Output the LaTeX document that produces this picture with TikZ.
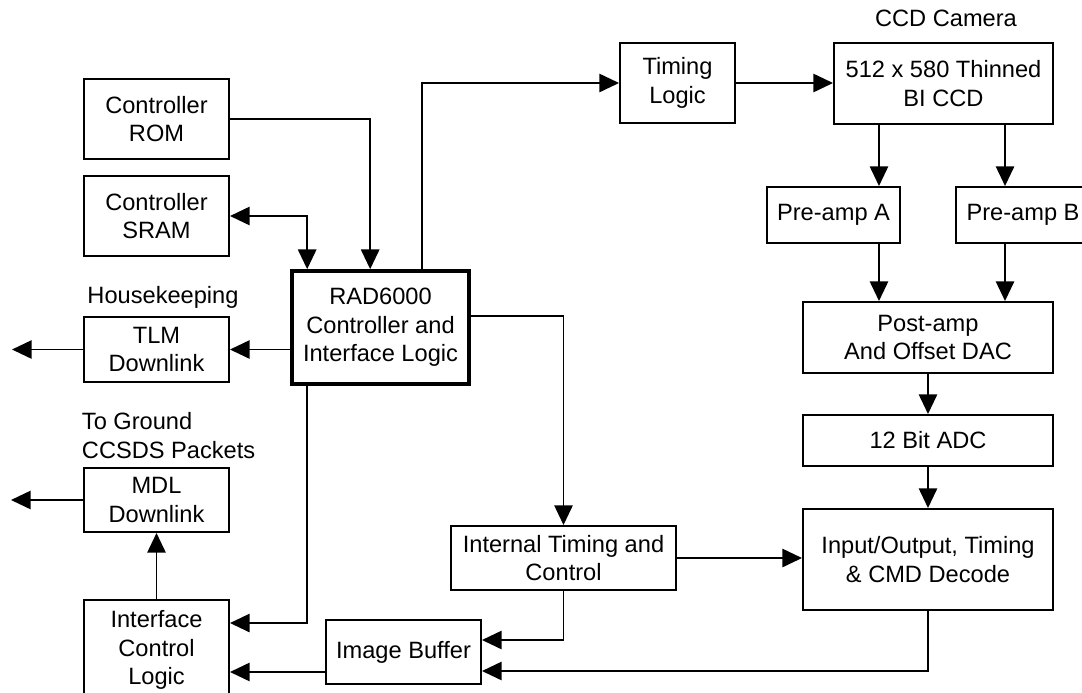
\documentclass[tikz,border=0pt]{standalone}
\usepackage{fontspec}
\setmainfont{Liberation Sans}
\usetikzlibrary{arrows.meta,calc}

\begin{document}
\begin{tikzpicture}[x=0.025cm,y=-0.025cm,line width=1.4pt,
  >={Triangle[length=14pt,width=13pt]},
  every node/.style={inner sep=0pt,align=center,font=\fontsize{16.8}{20.3}\selectfont},
  blk/.style 2 args={draw,line width=1.4pt,minimum width=#1*0.025cm,minimum height=#2*0.025cm}]
\useasboundingbox (0,0) rectangle (1082,692);
% left column
\node[blk={145}{80}] (rom) at (156.5,119) {Controller\\ROM};
\node[blk={145}{80}] (sram) at (156.5,216) {Controller\\SRAM};
\node[blk={145}{65}] (tlm) at (156.5,349.5) {TLM\\Downlink};
\node[blk={145}{64}] (mdl) at (156.5,500) {MDL\\Downlink};
\node[blk={145}{100}] (icl) at (156.5,650) {Interface\\Control\\Logic};
\node (hk) at (163,297) {Housekeeping};
\node[anchor=west,align=left] (gnd) at (81,435.5) {To Ground\\CCSDS Packets};
\coordinate (hkend) at (12,349.5);
\coordinate (gndend) at (11,500);
% controller and buffers
\node[blk={177}{113},line width=2.6pt] (rad) at (380.5,327.5) {RAD6000\\Controller and\\Interface Logic};
\node[blk={225}{64}] (itc) at (563.5,558) {Internal Timing and\\Control};
\node[blk={155}{64}] (buf) at (403.5,652) {Image Buffer};
\node[blk={115}{80}] (tim) at (677.5,83) {Timing\\Logic};
% camera chain
\node (cam) at (946,18) {CCD Camera};
\node[blk={219}{81}] (ccd) at (943.5,83.5) {512 x 580 Thinned\\BI CCD};
\node[blk={133}{56}] (prea) at (833.5,215) {Pre-amp A};
\node[blk={134}{56}] (preb) at (1023,215) {Pre-amp B};
\node[blk={250}{71}] (post) at (928,337.5) {Post-amp\\And Offset DAC};
\node[blk={250}{51}] (adc) at (928,440.5) {12 Bit ADC};
\node[blk={250}{101}] (io) at (928,559.5) {Input/Output, Timing\\\& CMD Decode};
\coordinate (ta) at ($(prea.north east)+(-22,0)$);
\coordinate (tb) at ($(preb.north west)+(50,0)$);
\coordinate (bufout) at ($(buf.south west)+(0,-13)$);
% connections
\draw[->] (rom.east) -| ($(rad.north west)+(80,0)$);
\draw[<->] (sram.east) -| ($(rad.north west)+(17,0)$);
\draw[->] (tlm.east -| rad.west) -- (tlm.east);
\draw[->] (tlm.west) -- (hkend);
\draw[->] (mdl.west) -- (gndend);
\draw[->] (icl.north) -- (mdl.south);
\draw[->] ($(rad.south west)+(17,0)$) |- ($(icl.north east)+(0,24)$);
\draw[->] (bufout) -- (bufout -| icl.east);
\draw[->] ($(rad.north east)+(0,47)$) -| (itc.north);
\draw[->] ($(rad.north west)+(132,0)$) |- (tim.west);
\draw[->] (tim.east) -- (tim.east -| ccd.west);
\draw[->] (ccd.south -| ta) -- (ta);
\draw[->] (ccd.south -| tb) -- (tb);
\draw[->] (prea.south -| ta) -- (post.north -| ta);
\draw[->] (preb.south -| tb) -- (post.north -| tb);
\draw[->] (post.south) -- (adc.north);
\draw[->] (adc.south) -- (io.north);
\draw[->] (itc.east) -- (itc.east -| io.west);
\draw[->] (itc.south) |- ($(buf.east)+(0,-12)$);
\draw[->] (io.south) |- ($(buf.east)+(0,19)$);
\end{tikzpicture}
\end{document}
